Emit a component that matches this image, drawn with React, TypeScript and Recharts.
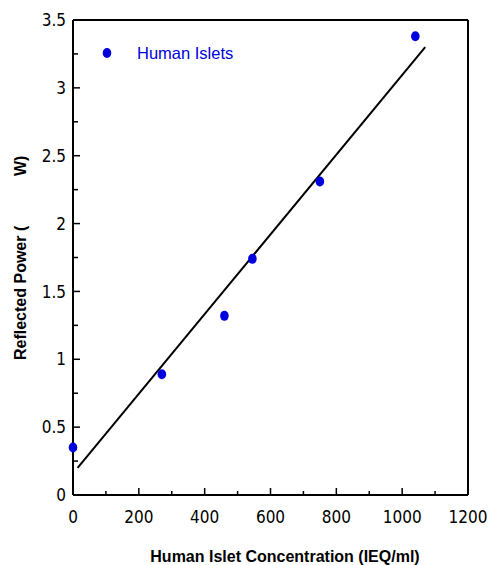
import { ComposedChart, Scatter, XAxis, YAxis } from "recharts";

// measured points (IEQ/ml vs reflected power)
const concentration = [0, 270, 460, 545, 750, 1040];
const power = [0.35, 0.89, 1.32, 1.74, 2.31, 3.38];

// fitted line end points
const fitX = [14, 1070];
const fitY = [0.2, 3.3];

const xTicks = [0, 100, 200, 300, 400, 500, 600, 700, 800, 900, 1000, 1100, 1200];
const yTicks = [0, 0.25, 0.5, 0.75, 1, 1.25, 1.5, 1.75, 2, 2.25, 2.5, 2.75, 3, 3.25, 3.5];

const points = concentration.map((x, i) => ({ x, y: power[i] }));
const fit = fitX.map((x, i) => ({ x, y: fitY[i] }));

const BLUE = "#0000dc";
const W = 489;
const H = 565;
const PL = 73;
const PR = 468;
const PT = 20;
const PB = 495;
// axis sizes eat into these, so plot area ends up PL..PR, PT..PB
const M = { top: PT - 1, right: W - PR - 1, bottom: H - PB - 30, left: PL - 40 };
const tickFont = "'Liberation Sans Narrow', 'DejaVu Sans Condensed', Arial, sans-serif";
const titleFont = "Arial, 'Liberation Sans', sans-serif";

const BottomTick = (props: any) => {
  const { x, payload } = props;
  const major = payload.value % 200 === 0;
  return (
    <g>
      <line x1={x} x2={x} y1={PB} y2={PB - (major ? 7 : 4)} stroke="#000" strokeWidth={1.5} />
      {major && (
        <text x={x} y={523} textAnchor="middle" fontSize={17} fontFamily={tickFont} fill="#000">
          {payload.value}
        </text>
      )}
    </g>
  );
};

const LeftTick = (props: any) => {
  const { y, payload } = props;
  const major = Number.isInteger(payload.value * 2);
  return (
    <g>
      <line x1={PL} x2={PL + (major ? 7 : 5)} y1={y} y2={y} stroke="#000" strokeWidth={1.5} />
      {major && (
        <text x={66} y={y} dy="0.36em" textAnchor="end" fontSize={17} fontFamily={tickFont} fill="#000">
          {payload.value}
        </text>
      )}
    </g>
  );
};

const TopTick = (props: any) => {
  const { x } = props;
  return <line x1={x} x2={x} y1={PT} y2={PT + 5} stroke="#000" strokeWidth={1.5} />;
};

const RightTick = (props: any) => {
  const { y } = props;
  return <line x1={PR} x2={PR - 5} y1={y} y2={y} stroke="#000" strokeWidth={1.5} />;
};

export default function App() {
  return (
    <div style={{ position: "absolute", left: 0, top: 0, width: W, height: H, background: "#fff" }}>
      <ComposedChart width={W} height={H} margin={M}>
        <XAxis
          xAxisId="b"
          type="number"
          dataKey="x"
          domain={[0, 1200]}
          ticks={xTicks}
          height={30}
          tickLine={false}
          tick={<BottomTick />}
          axisLine={{ stroke: "#000", strokeWidth: 2 }}
          interval={0}
        />
        <XAxis
          xAxisId="t"
          orientation="top"
          type="number"
          dataKey="x"
          domain={[0, 1200]}
          ticks={xTicks}
          height={1}
          tickLine={false}
          tick={<TopTick />}
          axisLine={{ stroke: "#000", strokeWidth: 2 }}
          interval={0}
        />
        <YAxis
          yAxisId="l"
          type="number"
          dataKey="y"
          domain={[0, 3.5]}
          ticks={yTicks}
          width={40}
          tickLine={false}
          tick={<LeftTick />}
          axisLine={{ stroke: "#000", strokeWidth: 2 }}
          interval={0}
        />
        <YAxis
          yAxisId="r"
          orientation="right"
          type="number"
          dataKey="y"
          domain={[0, 3.5]}
          ticks={yTicks}
          width={1}
          tickLine={false}
          tick={<RightTick />}
          axisLine={{ stroke: "#000", strokeWidth: 2 }}
          interval={0}
        />
        <Scatter
          xAxisId="b"
          yAxisId="l"
          data={fit}
          line={{ stroke: "#000", strokeWidth: 2 }}
          shape={() => <g />}
          isAnimationActive={false}
          legendType="none"
        />
        <Scatter
          xAxisId="b"
          yAxisId="l"
          data={points}
          fill={BLUE}
          shape={(p: any) => <ellipse cx={p.cx} cy={p.cy} rx={4.3} ry={5} fill={BLUE} />}
          isAnimationActive={false}
        />
      </ComposedChart>
      <svg width={W} height={H} style={{ position: "absolute", left: 0, top: 0, pointerEvents: "none" }}>
        <ellipse cx={107} cy={53} rx={4.3} ry={5} fill={BLUE} />
        <text x={137} y={59} fontSize={16.5} fontFamily={titleFont} fill={BLUE}>
          Human Islets
        </text>
        <text x={285} y={562} textAnchor="middle" fontSize={16} fontWeight="bold" fontFamily={titleFont} fill="#000">
          Human Islet Concentration (IEQ/ml)
        </text>
        <g fontSize={16} fontWeight="bold" fontFamily={titleFont} fill="#000">
          <text x={26} y={360} transform="rotate(-90 26 360)">Reflected Power (</text>
          <text x={26} y={176} transform="rotate(-90 26 176)">W)</text>
        </g>
      </svg>
    </div>
  );
}
